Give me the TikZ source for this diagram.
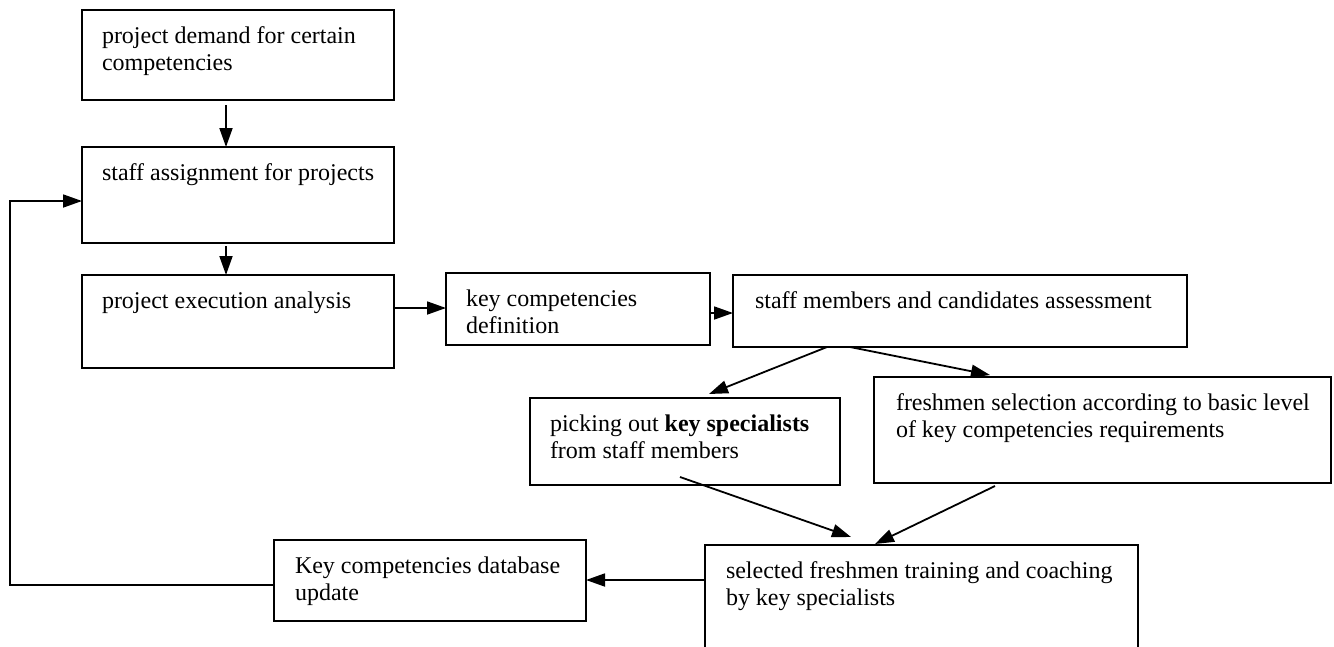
\documentclass[tikz,border=0pt]{standalone}
\usepackage{fontspec}
\setmainfont{Liberation Serif}
\usetikzlibrary{arrows.meta}
\tikzset{
  box/.style={draw, line width=1.8pt, anchor=north west, inner sep=0pt, outer sep=0pt},
  arr/.style={line width=1.8pt, -{Triangle[length=19pt,width=13pt]}},
  ln/.style={line width=1.8pt}
}
\hfuzz=50pt
\newcommand\mybox[7]{%
  \node[box] (#1) at (#2,#3) {\begin{minipage}[t][\dimexpr #5pt-#3pt\relax][t]{\dimexpr #4pt-#2pt\relax}%
    \fontsize{24pt}{27.5pt}\selectfont\leftskip=#6pt\rightskip=0pt plus 1fil\parfillskip=0pt plus 1fil%
    \rule{0pt}{33pt}#7\end{minipage}};}
\begin{document}
\begin{tikzpicture}[x=1pt,y=-1pt]
\useasboundingbox (0,0) rectangle (1334,646);
\clip (0,0) rectangle (1334,646);
\mybox{b1}{82}{10}{394}{100}{20}{project demand for certain\\competencies}
\mybox{b2}{82}{147}{394}{243}{20}{staff assignment for projects}
\mybox{b3}{82}{275}{394}{368}{20}{project execution analysis}
\mybox{kcd}{446}{273}{710}{345}{20}{key competencies\\definition}
\mybox{staff}{733}{275}{1187}{347}{22}{staff members and candidates assessment}
\mybox{pick}{530}{398}{840}{485}{20}{picking out \textbf{key specialists}\\from staff members}
\mybox{fresh}{874}{377}{1331}{483}{22}{freshmen selection according to basic level\\of key competencies requirements}
\mybox{upd}{274}{540}{586}{621}{21}{Key competencies database\\update}
\mybox{sel}{705}{545}{1138}{680}{21}{selected freshmen training and coaching\\by key specialists}
\coordinate (fb) at (10,585);
\draw[arr] ([xshift=-12pt,yshift=-5pt]b1.south) -- ([xshift=-12pt]b2.north);
\draw[arr] ([xshift=-12pt,yshift=-3pt]b2.south) -- ([xshift=-12pt]b3.north);
\draw[arr] ([yshift=13.5pt]b3.east) -- ([yshift=13.5pt]b3.east -| kcd.west);
\draw[arr] ([yshift=-4pt]kcd.east) -- ([yshift=-4pt]kcd.east -| staff.west);
\draw[arr] ([xshift=94pt]staff.south west) -- ([xshift=179pt,yshift=4pt]pick.north west);
\draw[arr] ([xshift=117pt]staff.south west) -- ([xshift=116pt,yshift=2pt]fresh.north west);
\draw[arr] ([xshift=150pt,yshift=8pt]pick.south west) -- ([xshift=146pt,yshift=8pt]sel.north west);
\draw[arr] ([xshift=121pt,yshift=-3pt]fresh.south west) -- ([xshift=170pt,yshift=1pt]sel.north west);
\draw[arr] ([yshift=-35pt]sel.north west) -- ([yshift=-35pt]sel.north west -| upd.east);
\draw[arr] ([yshift=-4.5pt]upd.west) -- (fb) |- ([yshift=-6pt]b2.west);
\end{tikzpicture}
\end{document}
